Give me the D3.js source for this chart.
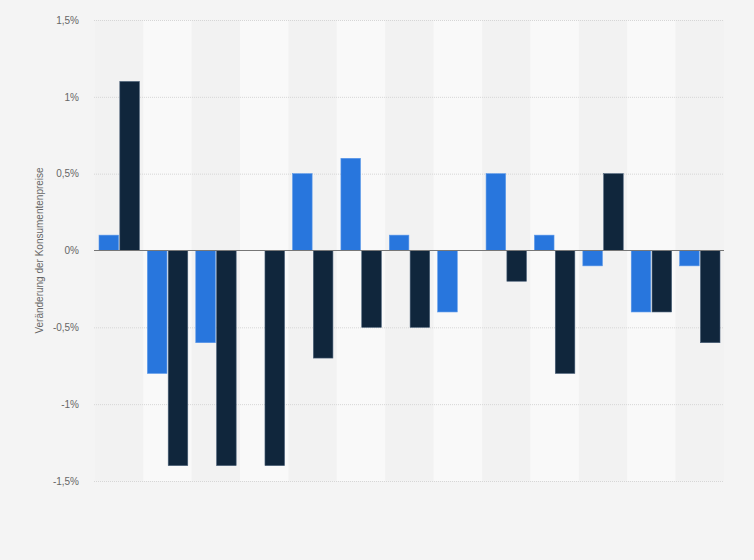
<!DOCTYPE html>
<html>
<head>
<meta charset="utf-8">
<script src="https://cdn.jsdelivr.net/npm/d3@7"></script>
<style>
  body { margin: 0; background: #f4f4f4; }
  svg { display: block; font-family: Arial, "Liberation Sans", sans-serif; }
</style>
</head>
<body>
<svg id="chart" width="754" height="560"></svg>
<script>
// one entry per period, no labels shown on the x axis
const groups = ["1", "2", "3", "4", "5", "6", "7", "8", "9", "10", "11", "12", "13"];
const seriesBlue = [0.1, -0.8, -0.6, 0, 0.5, 0.6, 0.1, -0.4, 0.5, 0.1, -0.1, -0.4, -0.1];
const seriesDark = [1.1, -1.4, -1.4, -1.4, -0.7, -0.5, -0.5, 0, -0.2, -0.8, 0.5, -0.4, -0.6];
const yTicks = [-1.5, -1, -0.5, 0, 0.5, 1, 1.5];

const svg = d3.select("#chart"),
    margin = { top: 20, right: 30, bottom: 79, left: 95 },
    width = +svg.attr("width") - margin.left - margin.right,
    height = +svg.attr("height") - margin.top - margin.bottom;

const g = svg.append("g").attr("transform", `translate(${margin.left},${margin.top})`);

const x = d3.scaleBand().domain(groups).range([0, width]).paddingInner(0).paddingOuter(0);
const xInner = d3.scaleBand().domain(["blue", "dark"]).range([4, x.bandwidth() - 4]).paddingInner(0.06);
const y = d3.scaleLinear().domain([-1.5, 1.5]).range([height, 0]);

// alternating column bands
g.append("g")
    .selectAll("rect")
    .data(groups)
    .enter()
    .append("rect")
    .attr("x", d => x(d))
    .attr("y", 0)
    .attr("width", x.bandwidth())
    .attr("height", height)
    .attr("fill", (d, i) => i % 2 ? "#f9f9f9" : "#f2f2f2");

// grid lines
g.append("g")
    .selectAll("line")
    .data(yTicks.filter(t => t !== 0))
    .enter()
    .append("line")
    .attr("x1", -1)
    .attr("x2", width)
    .attr("y1", d => y(d) + 0.5)
    .attr("y2", d => y(d) + 0.5)
    .attr("stroke", "#d6d6d6")
    .attr("stroke-dasharray", "1,1");

// y axis labels
const fmt = d => d3.format(".1~f")(d).replace(".", ",").replace("−", "-") + "%";
const yAxis = d3.axisLeft(y).tickValues(yTicks).tickSize(0).tickPadding(16).tickFormat(fmt);
g.append("g")
    .call(yAxis)
    .call(a => a.select(".domain").remove())
    .selectAll("text")
    .attr("fill", "#666")
    .style("font-size", "10px");

const data = groups.map((k, i) => ({ key: k, blue: seriesBlue[i], dark: seriesDark[i] }));
const colors = { blue: "#2876dd", dark: "#10263c" };
const strokes = { blue: "#5a98ea", dark: "#4a6078" };

const bars = g.append("g")
    .selectAll("g")
    .data(data)
    .enter()
    .append("g")
    .attr("transform", d => `translate(${x(d.key)},0)`);

bars.selectAll("rect")
    .data(d => ["blue", "dark"].map(s => ({ s: s, v: d[s] })).filter(e => e.v !== 0))
    .enter()
    .append("rect")
    .attr("x", d => xInner(d.s))
    .attr("y", d => y(Math.max(0, d.v)))
    .attr("width", xInner.bandwidth())
    .attr("height", d => Math.abs(y(d.v) - y(0)))
    .attr("fill", d => colors[d.s])
    .attr("stroke", d => strokes[d.s])
    .attr("stroke-width", 0.6);

// zero line
g.append("line")
    .attr("x1", -1)
    .attr("x2", width)
    .attr("y1", y(0))
    .attr("y2", y(0))
    .attr("stroke", "#777")
    .attr("stroke-width", 1.2);

// y axis title
svg.append("text")
    .attr("transform", `translate(43,${margin.top + y(0)}) rotate(-90)`)
    .attr("text-anchor", "middle")
    .attr("fill", "#666")
    .style("font-size", "10px")
    .text("Veränderung der Konsumentenpreise");
</script>
</body>
</html>
